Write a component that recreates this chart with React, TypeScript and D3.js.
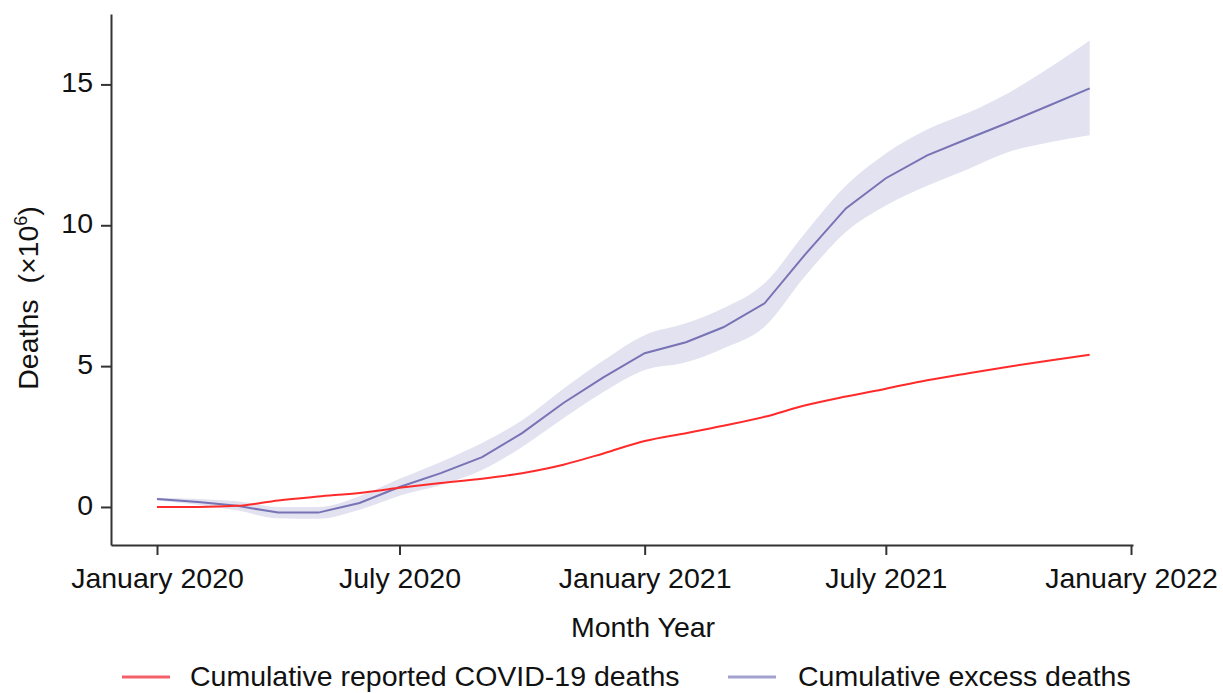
import React, { useEffect, useRef } from 'react';
import * as d3 from 'd3';

// monthly points, Jan 2020 - Dec 2021 (deaths, millions)
const months = [
  '2020-01', '2020-02', '2020-03', '2020-04', '2020-05', '2020-06',
  '2020-07', '2020-08', '2020-09', '2020-10', '2020-11', '2020-12',
  '2021-01', '2021-02', '2021-03', '2021-04', '2021-05', '2021-06',
  '2021-07', '2021-08', '2021-09', '2021-10', '2021-11', '2021-12',
];
const reported = [
  0, 0.003, 0.04, 0.23, 0.37, 0.5, 0.68, 0.85, 1.0, 1.2, 1.5, 1.9,
  2.34, 2.62, 2.88, 3.2, 3.6, 3.92, 4.2, 4.5, 4.75, 4.98, 5.2, 5.4,
];
const excess = [
  0.28, 0.18, 0.04, -0.2, -0.2, 0.14, 0.71, 1.2, 1.77, 2.62, 3.69, 4.6,
  5.46, 5.85, 6.38, 7.23, 8.94, 10.6, 11.67, 12.48, 13.08, 13.65, 14.26, 14.86,
];
const excessHigh = [
  0.33, 0.28, 0.2, 0.0, 0.0, 0.38, 1.0, 1.6, 2.27, 3.08, 4.2, 5.2,
  6.1, 6.52, 7.05, 7.94, 9.7, 11.4, 12.55, 13.4, 14.0, 14.7, 15.6, 16.56,
];
const excessLow = [
  0.23, 0.08, -0.12, -0.4, -0.42, -0.1, 0.4, 0.78, 1.31, 2.13, 3.15, 4.08,
  4.86, 5.14, 5.63, 6.4, 8.17, 9.76, 10.7, 11.4, 12.0, 12.6, 12.95, 13.2,
];
const xTicks = ['2020-01', '2020-07', '2021-01', '2021-07', '2022-01'];
const yTicks = [0, 5, 10, 15];

const RED = '#ff2b2b';
const PURPLE = '#7773b5';
const BAND = '#e2e2f0';
const FONT = '"Liberation Sans", Arial, Helvetica, sans-serif';
const FS = 28.5;

const parse = d3.timeParse('%Y-%m');
const fmt = d3.timeFormat('%B %Y');

const App = () => {
  const xAxisRef = useRef<SVGGElement | null>(null);
  const yAxisRef = useRef<SVGGElement | null>(null);

  const x = d3.scaleTime()
    .domain([parse('2020-01')!, parse('2022-01')!])
    .range([157, 1131]);
  const xAxisScale = x.copy().domain([x.invert(111), x.invert(1133)]).range([111, 1133]);
  const y = d3.scaleLinear().domain([-1.35, 17.5]).range([545, 14]);

  const rows = months.map((m, i) => ({
    date: parse(m)!,
    reported: reported[i],
    excess: excess[i],
    hi: excessHigh[i],
    lo: excessLow[i],
  }));

  const band = d3.area<any>()
    .x((d) => x(d.date))
    .y0((d) => y(d.lo))
    .y1((d) => y(d.hi))
    .curve(d3.curveMonotoneX);
  const excessLine = d3.line<any>()
    .x((d) => x(d.date))
    .y((d) => y(d.excess));
  const reportedLine = d3.line<any>()
    .x((d) => x(d.date))
    .y((d) => y(d.reported))
    .curve(d3.curveMonotoneX);

  useEffect(() => {
    const gx = d3.select(xAxisRef.current!);
    gx.call(
      d3.axisBottom(xAxisScale)
        .tickValues(xTicks.map((t) => parse(t)!))
        .tickFormat((d: any) => fmt(d))
        .tickSize(10)
        .tickSizeOuter(0)
        .tickPadding(13)
    );
    gx.selectAll('path, line').attr('stroke', '#333').attr('stroke-width', 2);
    gx.selectAll('text').attr('font-size', FS).attr('font-family', FONT).attr('fill', '#111');

    const gy = d3.select(yAxisRef.current!);
    gy.call(
      d3.axisLeft(y)
        .tickValues(yTicks)
        .tickSize(10)
        .tickSizeOuter(0)
        .tickPadding(8)
    );
    gy.selectAll('path, line').attr('stroke', '#333').attr('stroke-width', 2);
    gy.selectAll('text')
      .attr('font-size', FS)
      .attr('font-family', FONT)
      .attr('fill', '#111')
      .attr('dy', '0.25em');
  }, []);

  return (
    <svg
      width={1223}
      height={693}
      style={{ position: 'absolute', left: 0, top: 0, background: '#fff' }}
    >
      <path d={band(rows) || ''} fill={BAND} />
      <path d={excessLine(rows) || ''} fill="none" stroke={PURPLE} strokeWidth={2} />
      <path d={reportedLine(rows) || ''} fill="none" stroke={RED} strokeWidth={2} />

      <g ref={xAxisRef} transform={`translate(0,545)`} />
      <g ref={yAxisRef} transform={`translate(111,0)`} />

      <text
        x={643}
        y={637}
        textAnchor="middle"
        fontSize={FS}
        fontFamily={FONT}
        fill="#111"
      >
        Month Year
      </text>
      <text
        transform="translate(38,298) rotate(-90)"
        textAnchor="middle"
        fontSize={FS}
        fontFamily={FONT}
        fill="#111"
      >
        Deaths{'\u00a0\u00a0'}(×10
        <tspan fontSize={18} dy={-11}>6</tspan>
        <tspan dy={11}>)</tspan>
      </text>

      {/* legend */}
      <line x1={122} x2={170} y1={677} y2={677} stroke="#f4606a" strokeWidth={3} />
      <text x={190} y={686} fontSize={FS} fontFamily={FONT} fill="#111">
        Cumulative reported COVID-19 deaths
      </text>
      <line x1={728} x2={776} y1={677} y2={677} stroke="#a3a1cf" strokeWidth={3} />
      <text x={798} y={686} fontSize={FS} fontFamily={FONT} fill="#111">
        Cumulative excess deaths
      </text>
    </svg>
  );
};

export default App;
